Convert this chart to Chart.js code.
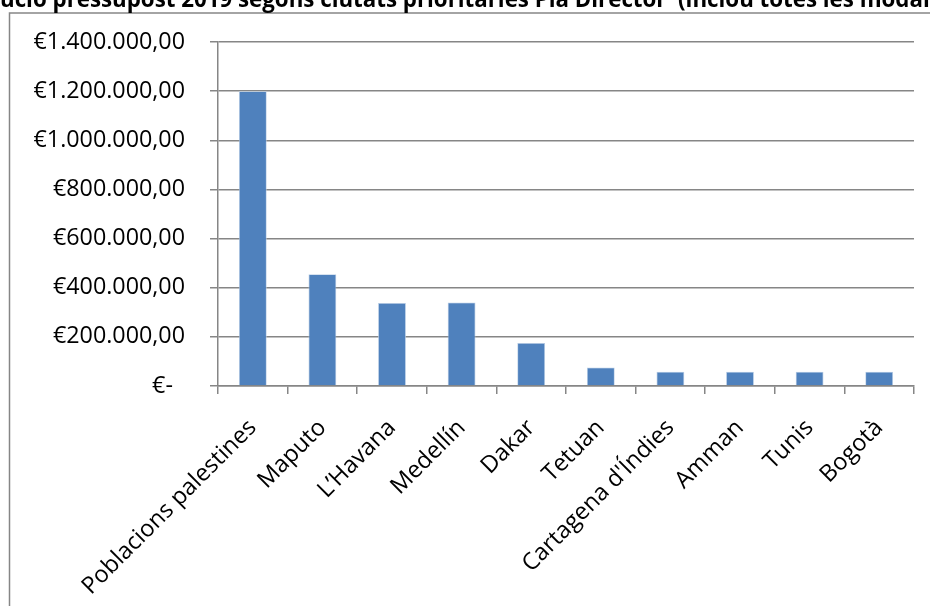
<!DOCTYPE html>
<html lang="ca">
<head>
    <meta charset="UTF-8">
    <title>Distribució pressupost 2019</title>
    <script src="https://cdn.jsdelivr.net/npm/chart.js"></script>
    <style>
        html, body { margin: 0; padding: 0; background: #fff; overflow: hidden; }
        #wrap { position: relative; width: 930px; height: 606px; }
    </style>
</head>
<body>
    <div id="wrap">
        <canvas id="grafic" width="930" height="606"></canvas>
    </div>

    <script>
        const titol = "Distribució pressupost 2019 segons ciutats prioritàries Pla Director  (inclou totes les modalitats)";
        const ciutats = ["Poblacions palestines", "Maputo", "L\u2019Havana", "Medellín", "Dakar", "Tetuan",
            "Cartagena d'Índies", "Amman", "Tunis", "Bogotà"];
        const imports = [1200000, 455000, 338000, 340000, 175000, 75000, 58000, 58000, 58000, 58000];
        const eixMax = 1400000;
        const eixPas = 200000;

        const fontText = "'Open Sans', 'Noto Sans', sans-serif";

        const formatEuro = (v) => {
            if (v === 0) return "€-  ";
            return "€" + v.toLocaleString("de-DE", { minimumFractionDigits: 2, maximumFractionDigits: 2 });
        };

        // marc del gràfic i títol tallat a dalt
        const marcTitol = {
            id: "marcTitol",
            beforeDraw(chart) {
                const ctx = chart.ctx;
                ctx.save();
                ctx.fillStyle = "#fff";
                ctx.fillRect(0, 0, chart.width, chart.height);
                ctx.strokeStyle = "#868686";
                ctx.lineWidth = 1.5;
                ctx.strokeRect(9.5, 13, 1000, 700);
                ctx.restore();
            },
            afterDraw(chart) {
                const ctx = chart.ctx;
                ctx.save();
                ctx.font = "bold 20px " + fontText;
                const visible = titol.slice(7, 93);
                const escala = 930 / ctx.measureText(visible).width;
                ctx.font = "bold " + (20 * escala).toFixed(1) + "px " + fontText;
                ctx.fillStyle = "#000";
                ctx.textBaseline = "alphabetic";
                ctx.textAlign = "left";
                const x = -ctx.measureText(titol.slice(0, 7)).width;
                ctx.fillText(titol, x, 7);
                ctx.restore();
            }
        };

        new Chart(document.getElementById("grafic"), {
            type: "bar",
            data: {
                labels: ciutats,
                datasets: [{
                    data: imports,
                    backgroundColor: "#4F81BD",
                    borderColor: "#B9CDE5",
                    borderWidth: 0.8,
                    barPercentage: 0.4,
                    categoryPercentage: 1.0
                }]
            },
            options: {
                responsive: false,
                animation: false,
                devicePixelRatio: 1,
                layout: { padding: { top: 42, right: 16, left: 0, bottom: 0 } },
                plugins: {
                    legend: { display: false },
                    title: { display: false },
                    tooltip: { enabled: false }
                },
                scales: {
                    x: {
                        offset: true,
                        border: { color: "#868686", width: 1.5 },
                        grid: {
                            offset: true,
                            drawOnChartArea: false,
                            drawTicks: true,
                            tickLength: 8,
                            color: "#868686",
                            lineWidth: 1.5
                        },
                        ticks: {
                            color: "#000",
                            font: { family: fontText, size: 23.5 },
                            minRotation: 45,
                            maxRotation: 45,
                            autoSkip: false,
                            padding: 20
                        },
                        afterFit: (scale) => { scale.height = 220; }
                    },
                    y: {
                        min: 0,
                        max: eixMax,
                        border: { color: "#868686", width: 1.5 },
                        grid: {
                            color: "#868686",
                            lineWidth: 1.5,
                            tickLength: 8
                        },
                        ticks: {
                            stepSize: eixPas,
                            color: "#000",
                            font: { family: fontText, size: 23.3 },
                            padding: 25,
                            callback: (v) => formatEuro(v)
                        },
                        afterFit: (scale) => { scale.width = 218; }
                    }
                }
            },
            plugins: [marcTitol]
        });
    </script>
</body>
</html>
